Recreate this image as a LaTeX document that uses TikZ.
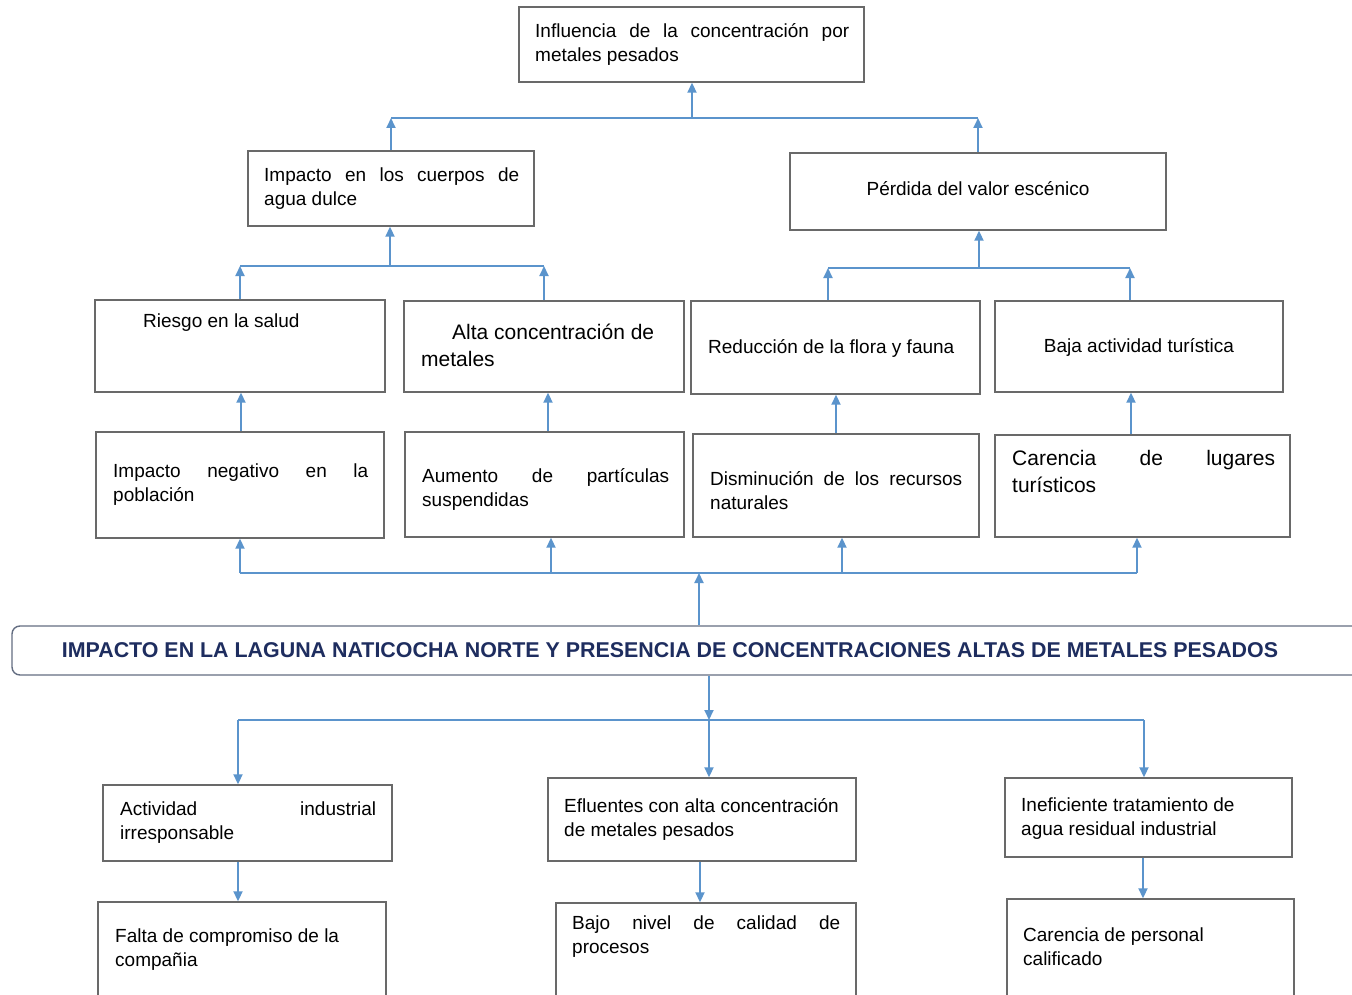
\documentclass[tikz,border=0pt]{standalone}
\usepackage{fontspec}
\setmainfont{Liberation Sans}
\usetikzlibrary{arrows.meta}
\definecolor{arrblue}{RGB}{91,148,204}
\definecolor{boxgray}{RGB}{105,105,105}
\definecolor{bangray}{RGB}{100,110,130}
\definecolor{navy}{RGB}{30,45,95}
\begin{document}
\begin{tikzpicture}[x=1pt,y=-1pt,
  box/.style={draw=boxgray, line width=1.4pt, inner sep=0pt, fill=white},
  txt/.style={inner sep=0pt, anchor=north west, align=left, font=\fontsize{19}{24.5}\selectfont},
  txtb/.style={inner sep=0pt, anchor=north west, align=left, font=\fontsize{21}{27.5}\selectfont},
  one/.style={inner sep=0pt, font=\fontsize{19}{24.5}\selectfont},
  arr/.style={draw=arrblue, line width=1.9pt, -{Triangle[width=9pt,length=10pt]}},
  ln/.style={draw=arrblue, line width=1.9pt}]
\clip (0,0) rectangle (1352,995);
\fill[white] (0,0) rectangle (1352,995);

% boxes
\node[box, minimum width=345pt, minimum height=75pt] (inf) at (691.5,44.5) {};
\node[box, minimum width=286pt, minimum height=75pt] (imp) at (391,188.5) {};
\node[box, minimum width=376pt, minimum height=77pt] (perd) at (978,191.5) {};
\node[box, minimum width=290pt, minimum height=92pt] (rie) at (240,346) {};
\node[box, minimum width=280pt, minimum height=91pt] (alta) at (544,346.5) {};
\node[box, minimum width=289pt, minimum height=93pt] (red) at (835.5,347.5) {};
\node[box, minimum width=288pt, minimum height=91pt] (baja) at (1139,346.5) {};
\node[box, minimum width=288pt, minimum height=106pt] (neg) at (240,485) {};
\node[box, minimum width=279pt, minimum height=105pt] (aum) at (544.5,484.5) {};
\node[box, minimum width=286pt, minimum height=103pt] (dis) at (836,485.5) {};
\node[box, minimum width=295pt, minimum height=102pt] (carl) at (1142.5,486) {};
\node[box, draw=bangray, rounded corners=8pt, minimum width=1353pt, minimum height=49pt] (ban) at (688.5,650.5) {};
\node[box, minimum width=289pt, minimum height=76pt] (act) at (247.5,823) {};
\node[box, minimum width=308pt, minimum height=83pt] (eff) at (702,819.5) {};
\node[box, minimum width=287pt, minimum height=79pt] (inef) at (1148.5,817.5) {};
\node[box, minimum width=288pt, minimum height=108pt] (fal) at (242,956) {};
\node[box, minimum width=300pt, minimum height=107pt] (bajo) at (706,956.5) {};
\node[box, minimum width=287pt, minimum height=111pt] (carp) at (1150.5,954.5) {};

% texts
\node[txt] (tinf) at (535,20) {\strut\makebox[314pt][s]{Influencia de la concentración por}\\metales pesados};
\node[txt] (timp) at (264,164) {\strut\makebox[255pt][s]{Impacto en los cuerpos de}\\agua dulce};
\node[one, anchor=base] (tperd) at (978,196) {Pérdida del valor escénico};
\node[one, anchor=base west] (trie) at (143,327) {Riesgo en la salud};
\node[txtb] (talta) at (421,320) {\strut\hspace*{31pt}Alta concentración de\\metales};
\node[one, anchor=base west] (tred) at (708,353) {Reducción de la flora y fauna};
\node[one, anchor=base] (tbaja) at (1139,352) {Baja actividad turística};
\node[txt] (tneg) at (113,460) {\strut\makebox[255pt][s]{Impacto negativo en la}\\población};
\node[txt] (taum) at (422,465) {\strut\makebox[247pt][s]{Aumento de partículas}\\suspendidas};
\node[txt] (tdis) at (710,468) {\strut\makebox[252pt][s]{Disminución de los recursos}\\naturales};
\node[txtb] (tcarl) at (1012,446) {\strut\makebox[263pt][s]{Carencia de lugares}\\turísticos};
\node[anchor=base, inner sep=0pt, font=\fontsize{21.4}{24}\selectfont\bfseries, text=navy] (tban) at (670,657.5) {IMPACTO EN LA LAGUNA NATICOCHA NORTE Y PRESENCIA DE CONCENTRACIONES ALTAS DE METALES PESADOS};
\node[txt] (tact) at (120,798) {\strut\makebox[256pt][s]{Actividad industrial}\\irresponsable};
\node[txt] (teff) at (564,795) {\strut Efluentes con alta concentración\\de metales pesados};
\node[txt] (tinef) at (1021,794) {\strut Ineficiente tratamiento de\\agua residual industrial};
\node[txt] (tfal) at (115,925) {\strut Falta de compromiso de la\\compañia};
\node[txt] (tbajo) at (572,912) {\strut\makebox[268pt][s]{Bajo nivel de calidad de}\\procesos};
\node[txt] (tcarp) at (1023,924) {\strut Carencia de personal\\calificado};

% junction coordinates
\coordinate (h1) at (692,118);
\coordinate (h2) at (390,266);
\coordinate (h3) at (979,268);
\coordinate (h4) at (699,573);
\coordinate (h5) at (709,720);

% top level
\draw[ln] (imp.north |- h1) -- (perd.north |- h1);
\draw[arr] (imp.north) -- (imp.north |- h1);
\draw[arr] (perd.north) -- (perd.north |- h1);
\draw[arr] (h1) -- (inf.south -| h1);

% second level left
\draw[ln] (rie.north |- h2) -- (alta.north |- h2);
\draw[arr] (rie.north) -- (rie.north |- h2);
\draw[arr] (alta.north) -- (alta.north |- h2);
\draw[arr] (h2) -- (imp.south -| h2);

% second level right
\draw[ln] ([xshift=-7.5pt]red.north |- h3) -- ([xshift=-9pt]baja.north |- h3);
\draw[arr] ([xshift=-7.5pt]red.north) -- ([xshift=-7.5pt]red.north |- h3);
\draw[arr] ([xshift=-9pt]baja.north) -- ([xshift=-9pt]baja.north |- h3);
\draw[arr] (h3) -- (perd.south -| h3);

% third level
\draw[arr] ([xshift=1pt]neg.north) -- ([xshift=1pt]neg.north |- rie.south);
\draw[arr] ([xshift=3.5pt]aum.north) -- ([xshift=3.5pt]aum.north |- alta.south);
\draw[arr] (dis.north) -- (dis.north |- red.south);
\draw[arr] ([xshift=-11.5pt]carl.north) -- ([xshift=-11.5pt]carl.north |- baja.south);

% fourth level
\draw[ln] (neg.south |- h4) -- ([xshift=-5.5pt]carl.south |- h4);
\draw[arr] (neg.south |- h4) -- (neg.south);
\draw[arr] ([xshift=6.5pt]aum.south |- h4) -- ([xshift=6.5pt]aum.south);
\draw[arr] ([xshift=6pt]dis.south |- h4) -- ([xshift=6pt]dis.south);
\draw[arr] ([xshift=-5.5pt]carl.south |- h4) -- ([xshift=-5.5pt]carl.south);
\draw[arr] (ban.north -| h4) -- (h4);

% bottom
\draw[arr] (ban.south -| h5) -- (h5);
\draw[ln] ([xshift=-9.5pt]act.north |- h5) -- ([xshift=-4.5pt]inef.north |- h5);
\draw[arr] ([xshift=-9.5pt]act.north |- h5) -- ([xshift=-9.5pt]act.north);
\draw[arr] (h5) -- (eff.north -| h5);
\draw[arr] ([xshift=-4.5pt]inef.north |- h5) -- ([xshift=-4.5pt]inef.north);
\draw[arr] ([xshift=-9.5pt]act.south) -- ([xshift=-9.5pt]act.south |- fal.north);
\draw[arr] ([xshift=-2pt]eff.south) -- ([xshift=-2pt]eff.south |- bajo.north);
\draw[arr] ([xshift=-5.5pt]inef.south) -- ([xshift=-5.5pt]inef.south |- carp.north);
\end{tikzpicture}
\end{document}
